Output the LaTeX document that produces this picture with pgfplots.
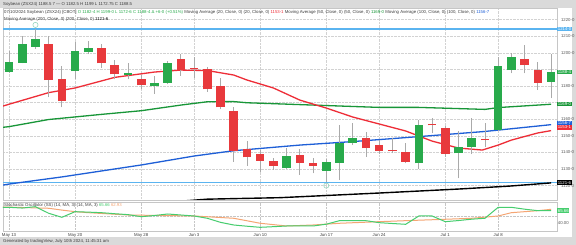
\documentclass[border=0pt]{standalone}
\usepackage{pgfplots}
\pgfplotsset{compat=1.18}
\usepackage{pgfplotstable}
\usepackage{fontspec}
\setmainfont{Liberation Sans}
\definecolor{cgreen}{RGB}{40,170,75}
\definecolor{cred}{RGB}{232,57,60}
\definecolor{mared}{RGB}{238,45,55}
\definecolor{magreen}{RGB}{24,150,56}
\definecolor{mablue}{RGB}{30,95,215}
\definecolor{lblue}{RGB}{90,180,240}
\definecolor{stgreen}{RGB}{70,205,110}
\definecolor{storange}{RGB}{245,165,115}
\definecolor{wick}{RGB}{170,170,170}
\definecolor{barbg}{RGB}{218,218,218}
\definecolor{txt}{RGB}{60,60,60}
\definecolor{ring}{RGB}{150,215,190}
\newcommand\ft{\fontsize{4.3}{5}\selectfont}

\pgfplotstableread{
i open high low close
0 1188.6 1201.2 1187.6 1194.6
1 1194.0 1210.3 1193.6 1205.3
2 1203.6 1214.1 1202.4 1208.1
5 1189.0 1206.3 1184.0 1201.2
6 1200.3 1207.3 1199.1 1203.0
9 1186.4 1194.0 1184.0 1188.0
11 1180.0 1186.0 1175.2 1181.6
12 1182.0 1195.2 1181.0 1194.0
21 1130.4 1142.4 1130.0 1137.8
24 1128.8 1135.8 1122.3 1134.4
25 1133.8 1156.5 1123.3 1145.8
26 1145.8 1157.9 1144.4 1148.8
31 1133.4 1159.5 1129.8 1156.5
34 1139.4 1153.0 1124.4 1143.0
35 1143.0 1160.5 1139.0 1148.5
37 1153.5 1197.6 1153.0 1192.0
38 1189.6 1199.7 1187.6 1197.6
41 1182.5 1199.0 1172.75 1188.5
}\gc

\pgfplotstableread{
i open high low close
3 1205.3 1210.3 1173.2 1183.6
4 1184.0 1192.0 1167.1 1170.9
7 1202.7 1205.3 1191.0 1193.6
8 1192.6 1195.6 1184.0 1187.0
10 1184.0 1186.6 1178.0 1180.4
13 1196.0 1199.2 1186.2 1189.6
14 1190.6 1197.6 1184.6 1190.0
15 1190.0 1191.6 1176.5 1178.0
16 1180.0 1184.6 1165.9 1167.1
17 1165.1 1167.5 1134.4 1141.0
18 1141.8 1147.0 1131.8 1137.0
19 1138.8 1141.4 1128.3 1135.0
20 1134.8 1136.4 1129.4 1131.8
22 1138.4 1141.8 1126.4 1133.8
23 1133.4 1136.4 1127.4 1131.8
27 1148.8 1152.4 1137.4 1142.4
28 1144.4 1147.4 1139.0 1141.0
29 1141.6 1148.5 1139.4 1141.2
30 1140.4 1145.4 1133.4 1134.4
32 1157.1 1160.5 1151.5 1156.3
33 1154.5 1155.9 1137.4 1139.0
36 1147.8 1157.9 1143.4 1147.4
39 1196.0 1204.7 1187.6 1192.6
40 1189.6 1194.6 1177.6 1182.0
}\rc

\begin{document}
\begin{tikzpicture}
\useasboundingbox (0pt,0pt) rectangle (576pt,-245pt);
\fill[white] (0pt,0pt) rectangle (576pt,-245pt);
\fill[barbg] (0pt,0pt) rectangle (576pt,-8pt);
\fill[barbg] (0pt,-237pt) rectangle (576pt,-245pt);
\fill[barbg] (572pt,0pt) rectangle (576pt,-245pt);
\node[anchor=west, font=\ft, text=txt, inner sep=0pt] at (3pt,-4pt) {Soybean (ZSX24) 1188.5 7 — O 1182.5 H 1199 L 1172.75 C 1188.5};
\node[anchor=west, font=\ft, text=txt, inner sep=0pt] at (3pt,-241pt) {Generated by tradingView, July 10th 2024, 11:45:31 am};

\begin{axis}[
  at={(3pt,-200pt)}, anchor=south west,
  width=554pt, height=192pt, scale only axis,
  xmin=-0.454, xmax=41.45, ymin=1111.3, ymax=1227.0,
  clip mode=individual,
  axis line style={gray!45},
  major tick length=0pt,
  xtick={0,5,10,14,19,24,28,33,37}, xticklabels={},
  ytick={1120,1130,1140,1150,1160,1170,1180,1190,1200,1210,1220},
  yticklabels={1120-0,1130-0,1140-0,1150-0,1160-0,,1180-0,,1200-0,1210-0,1220-0},
  yticklabel pos=right,
  yticklabel style={font=\ft, text=gray!70!black, xshift=0.5pt},
  grid=major, major grid style={densely dotted, gray!35},
]
% high / low markers
\addplot[only marks, mark=o, mark size=2.6pt, mark options={solid, draw=ring, fill=none, line width=0.6pt}] coordinates {(2,1216.8) (24,1120.0)};
% horizontal levels
\addplot[lblue, line width=1.6pt, mark=none] coordinates {(-0.454,1214.3) (41.45,1214.3)};
\addplot[lblue, line width=1.2pt, mark=none] coordinates {(-0.454,1121.9) (41.45,1121.9)};
% MA 200
\addplot[black, line width=1.4pt, mark=none] coordinates {(13,1110.6) (15,1111.8) (20.5,1112.7) (28,1115.5) (34,1117.9) (37.9,1119.7) (41,1121.6)};
% MA 100
\addplot[mablue, line width=1.3pt, mark=none] coordinates {(-0.454,1120.3) (0,1120.9) (4,1125.2) (10,1132.4) (14,1137.8) (17,1141.0) (22,1144.4) (26,1146.5) (31,1149.5) (36,1152.6) (41,1156.7)};
% MA 50
\addplot[magreen, line width=1.3pt, mark=none] coordinates {(-0.454,1155.1) (0,1155.5) (3,1159.8) (7,1162.9) (10,1165.1) (13,1168.5) (15,1170.5) (17,1170.6) (18,1169.9) (23,1168.5) (28,1167.1) (31,1167.1) (36,1165.9) (37,1167.0) (41,1169.0)};
% MA 20
\addplot[mared, line width=1.3pt, mark=none] coordinates {(-0.454,1167.9) (0,1169.0) (3,1176.0) (5,1178.8) (8,1185.2) (11,1188.4) (13,1189.6) (15,1189.3) (17,1186.6) (18,1183.6) (20,1178.8) (22,1171.5) (24,1166.7) (26,1161.3) (28,1157.1) (30,1152.9) (32,1146.8) (34,1142.6) (35.8,1141.4) (37,1144.4) (38,1147.4) (40,1151.7) (41,1153.1)};
% wicks
\addplot[draw=none, mark=none, error bars/.cd, y dir=plus, y explicit, error mark=none, error bar style={draw=wick, line width=0.8pt}] table[x=i, y=low, y error plus expr=\thisrow{high}-\thisrow{low}] {\gc};
\addplot[draw=none, mark=none, error bars/.cd, y dir=plus, y explicit, error mark=none, error bar style={draw=wick, line width=0.8pt}] table[x=i, y=low, y error plus expr=\thisrow{high}-\thisrow{low}] {\rc};
% bodies
\addplot[draw=none, mark=none, error bars/.cd, y dir=plus, y explicit, error mark=none, error bar style={draw=cgreen, line width=8.6pt}] table[x=i, y=open, y error plus expr=\thisrow{close}-\thisrow{open}] {\gc};
\addplot[draw=none, mark=none, error bars/.cd, y dir=plus, y explicit, error mark=none, error bar style={draw=cred, line width=8.6pt}] table[x=i, y=close, y error plus expr=\thisrow{open}-\thisrow{close}] {\rc};
% right-side value boxes
\node[anchor=west, fill=lblue, text=white, font=\ft, inner sep=0.7pt] at (axis cs:41.45,1214.3) {1214-0};
\node[anchor=west, fill=cgreen, text=white, font=\ft, inner sep=0.7pt] at (axis cs:41.45,1188.4) {1188-4};
\node[anchor=west, fill=magreen, text=white, font=\ft, inner sep=0.7pt] at (axis cs:41.45,1169.0) {1169-0};
\node[anchor=west, fill=mablue, text=white, font=\ft, inner sep=0.7pt] at (axis cs:41.45,1157.5) {1156-7};
\node[anchor=west, fill=mared, text=white, font=\ft, inner sep=0.7pt] at (axis cs:41.45,1155.0) {1153-1};
\node[anchor=west, fill=black, text=white, font=\ft, inner sep=0.7pt] at (axis cs:41.45,1121.8) {1121-6};
\end{axis}

\node[anchor=west, font=\ft, text=txt, inner sep=0pt] at (4pt,-12.5pt) {07/10/2024 Soybean (ZSX24) [CBOT] \textcolor{cgreen}{O 1182-4 H 1199-0 L 1172-6 C 1188-4 Δ +6-0 (+0.51\%)} Moving Average (20, Close, 0) (20, Close, 0) \textcolor{mared}{1153-1} Moving Average (50, Close, 0) (50, Close, 0) \textcolor{magreen}{1169-0} Moving Average (100, Close, 0) (100, Close, 0) \textcolor{mablue}{1156-7}};
\node[anchor=west, font=\ft, text=txt, inner sep=0pt] at (4pt,-19pt) {Moving Average (200, Close, 0) (200, Close, 0) \textcolor{black}{1121-6}};

\begin{axis}[
  at={(3pt,-231pt)}, anchor=south west,
  width=554pt, height=29pt, scale only axis,
  xmin=-0.454, xmax=41.45, ymin=21.0, ymax=84.8,
  clip mode=individual,
  axis line style={gray!45},
  major tick length=0pt,
  xtick={0,5,10,14,19,24,28,33,37},
  xticklabels={May 13,May 20,May 28,Jun 3,Jun 10,Jun 17,Jun 24,Jul 1,Jul 8},
  xticklabel style={font=\ft, text=txt, yshift=1pt},
  ytick={52.5}, yticklabels={},
  grid=major, major grid style={densely dotted, gray!45},
]
\addplot[storange, line width=1pt, mark=none] coordinates {(-0.454,73.5) (0,73.5) (3,71) (4,67) (5,63.5) (6,61.3) (9,56.2) (14,54.0) (17,49.0) (19,38.0) (21,32.0) (23,34.2) (25,38.0) (28,41.5) (30,43.7) (33,46.8) (35,49.0) (37,54.0) (38,61.3) (40,65.7) (41,68.7)};
\addplot[stgreen, line width=1pt, mark=none] coordinates {(-0.454,73.1) (0,73.1) (1,71.5) (2,74.5) (3,60.0) (4,51.1) (5,63.5) (6,62.5) (7,61.3) (8,59) (9,57) (10,52.5) (11,55) (12,58.4) (13,56.2) (14,54.0) (15,49) (16,40) (17,34.2) (18,31.5) (19,29.1) (20,30.5) (21,32.0) (22,32.0) (23,32.0) (24,36) (25,43.7) (26,43.7) (27,43.7) (28,39.3) (29,37.5) (30,35.7) (31,54.0) (32,54.0) (33,41.5) (34,44) (35,47) (36,49.0) (37,73.1) (38,73.1) (39,69) (40,65.7) (41,65.66)};
\node[anchor=west, fill=stgreen, text=white, font=\ft, inner sep=0.7pt] at (axis cs:41.45,65.66) {65.66};
\node[anchor=west, text=gray!70!black, font=\ft, inner sep=0.7pt] at (axis cs:41.45,38.6) {40.00};
\end{axis}
\node[anchor=west, font=\ft, text=txt, inner sep=0pt] at (4pt,-205.5pt) {Stochastic Oscillator (SS) (14, MA, 3) (14, MA, 3) \textcolor{stgreen}{65.66} \textcolor{storange}{62.93}};
\end{tikzpicture}
\end{document}
